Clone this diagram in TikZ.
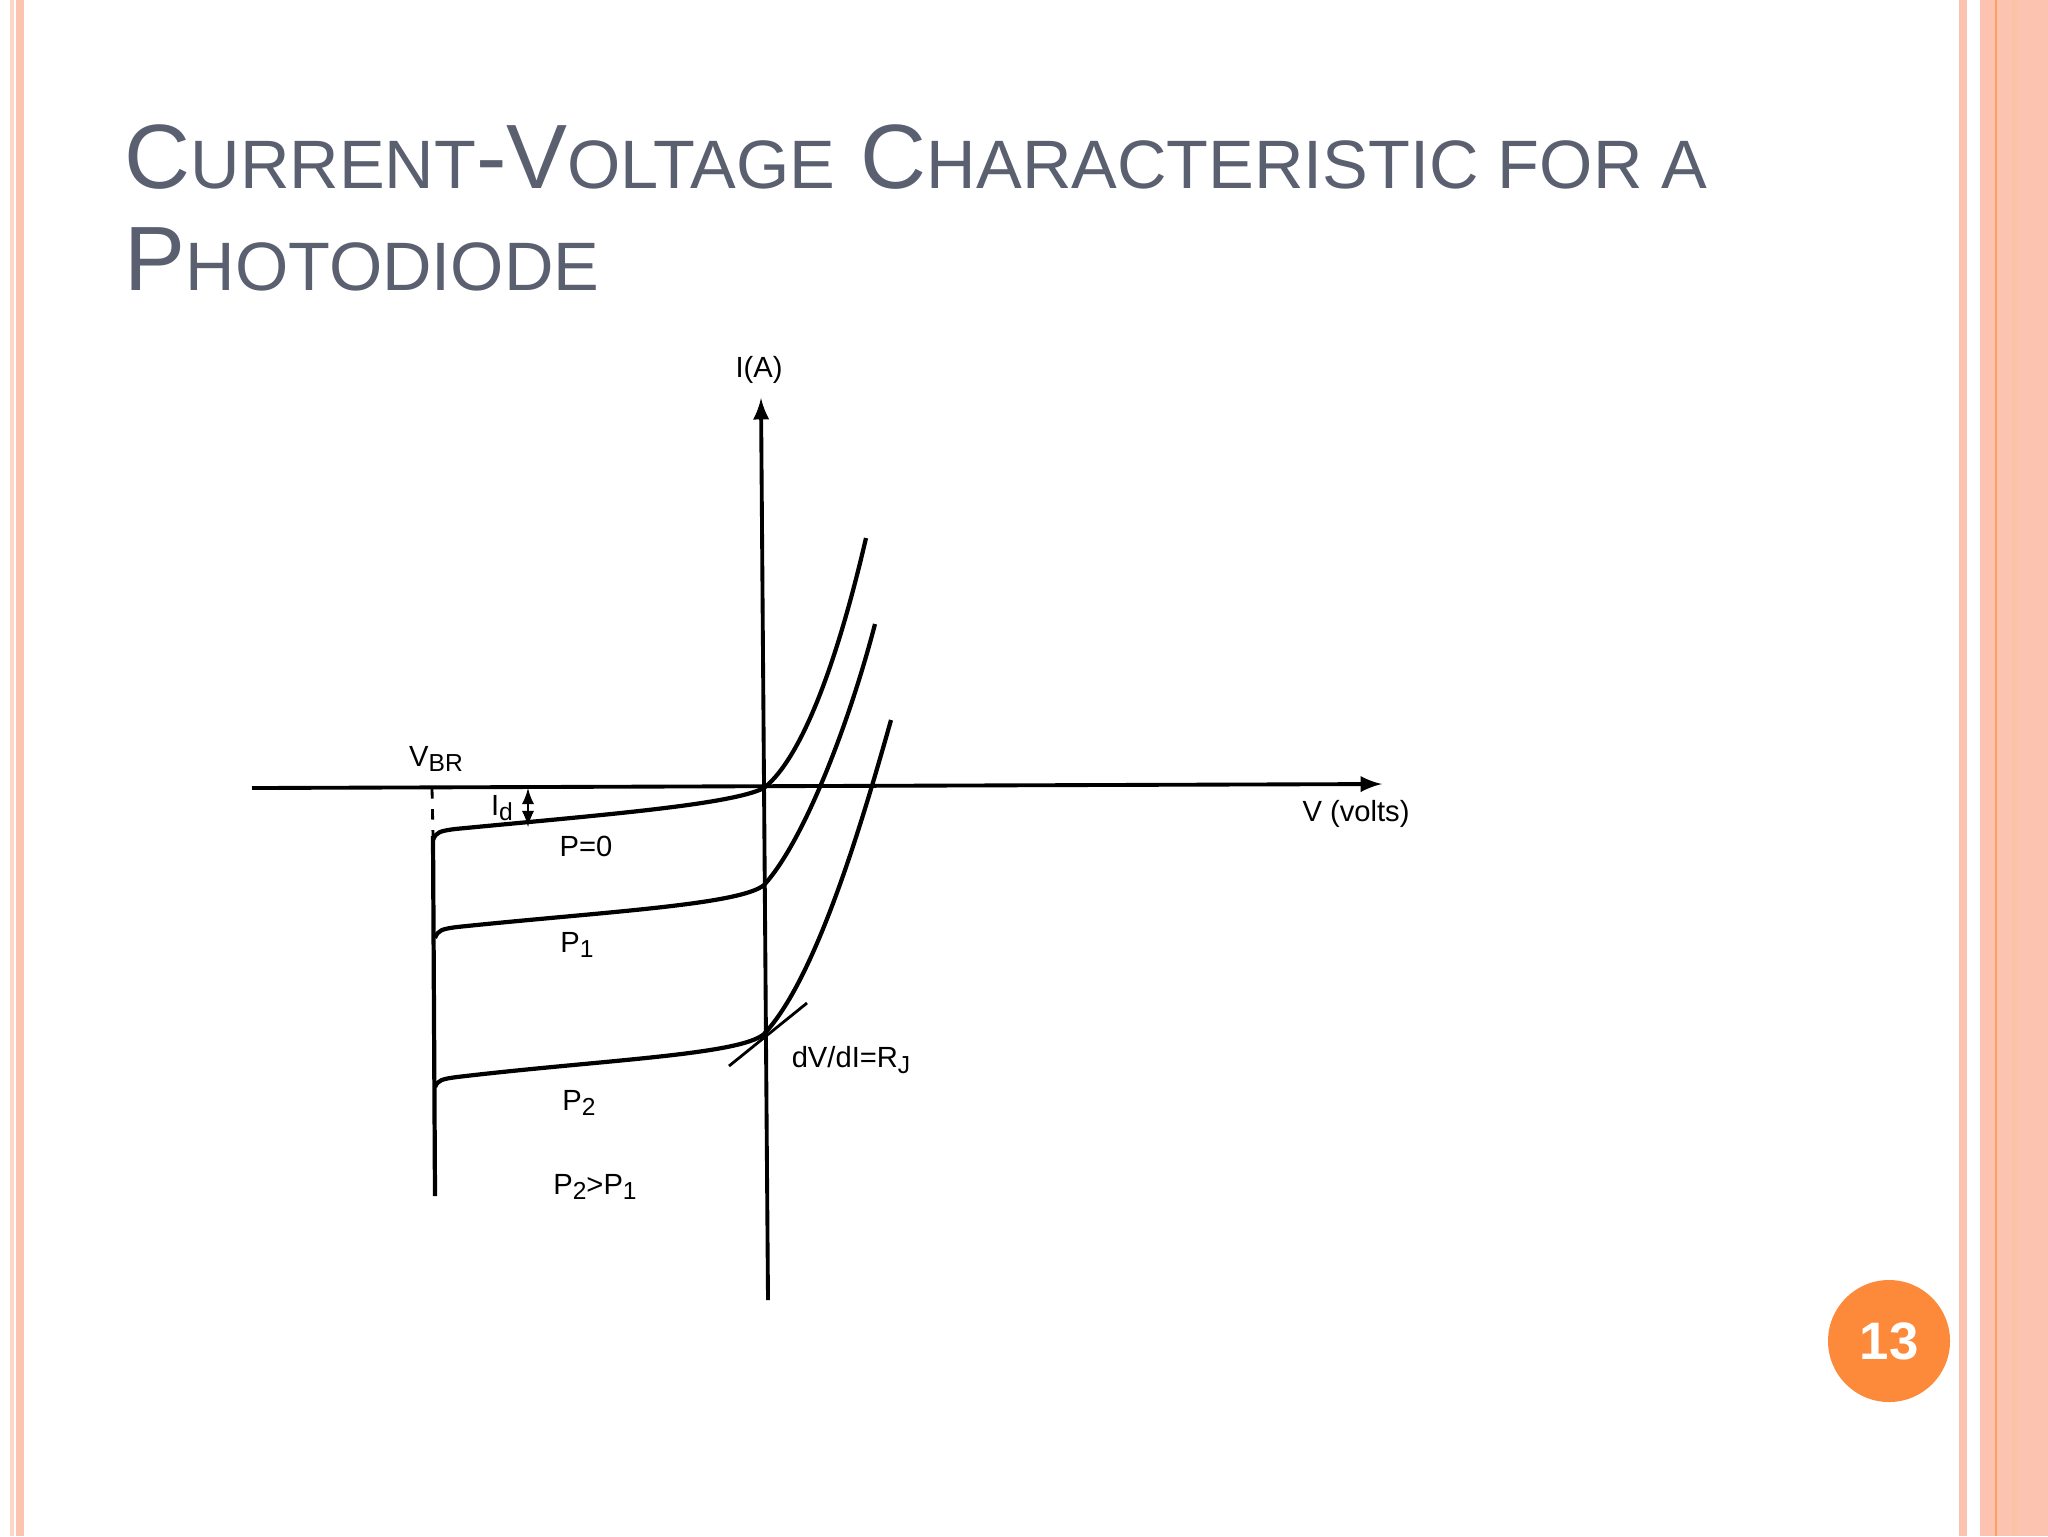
\documentclass[tikz,border=0pt]{standalone}
\usepackage{fontspec}
\setmainfont{Liberation Sans}
\newcommand{\mysc}[2]{{#1}{\fontsize{19.5}{24}\selectfont #2}}
\newcommand{\mysub}[1]{\raisebox{-0.35ex}{\fontsize{7}{8}\selectfont #1}}
\begin{document}
\begin{tikzpicture}[x=0.1mm,y=-0.1mm,
  curve/.style={line width=1.2pt},
  lbl/.style={font=\fontsize{8.3}{10}\selectfont, inner sep=0pt},
  ttl/.style={font=\fontsize{26}{30}\selectfont, text=titlegrey, anchor=base west, inner sep=0pt}]
\definecolor{titlegrey}{HTML}{5A6070}
\definecolor{stripe}{HTML}{FCC4B0}
\definecolor{stripeB}{HTML}{F9CBB8}
\definecolor{badge}{HTML}{FD8A3A}
\useasboundingbox (0,0) rectangle (2048,1536);
\fill[white] (0,0) rectangle (2048,1536);
% borders
\fill[stripe!70] (10,0) rectangle (14,1536);
\fill[stripe] (16,0) rectangle (24,1536);
\fill[stripe] (1959,0) rectangle (1967,1536);
\fill[stripe] (1980,0) rectangle (2048,1536);
\fill[stripeB!90!orange] (2012,0) rectangle (2017,1536);
\draw[badge!80,line width=0.5pt] (1996,0) -- (1996,1536);
% badge
\node[circle,fill=badge,minimum size=122*0.1mm,inner sep=0pt,text=white,font=\fontsize{15}{18}\selectfont\bfseries] (badge) at (1889,1341) {13};
% title
\node[ttl] (t1) at (124,188) {\mysc{C}{URRENT}-\mysc{V}{OLTAGE} \mysc{C}{HARACTERISTIC FOR A}};
\node[ttl] (t2) at (124,290) {\mysc{P}{HOTODIODE}};
% axes
\coordinate (xl) at (252,788);
\coordinate (xr) at (1382,784);
\coordinate (yb) at (768,1300);
\coordinate (yt) at (761,398);
\draw[line width=1.1pt,-latex] (xl) -- (xr);
\draw[line width=1.1pt,-latex] (yb) -- (yt);
\node[lbl] (ia) at (759,370) {I(A)};
\node[lbl] (vv) at (1356,814) {V (volts)};
\node[lbl] (vbr) at (436,759) {V\mysub{BR}};
% breakdown
\coordinate (d1) at (432,788);
\coordinate (d2) at (433,836);
\coordinate (d3) at (435,1196);
\draw[line width=0.8pt,dashed] (d1) -- (d2);
\draw[curve] (d2) -- (d3);
% curves
\draw[curve] (433,840) .. controls (436,832) and (440,831) .. (455,829) .. controls (600,815) and (730,805) .. (764,788) .. controls (805,755) and (840,650) .. (866,538);
\draw[curve] (435,938) .. controls (438,930) and (442,929) .. (457,927) .. controls (600,912) and (740,905) .. (764,885) .. controls (805,840) and (850,720) .. (875,624);
\draw[curve] (435,1087) .. controls (438,1080) and (442,1079) .. (457,1077) .. controls (600,1060) and (740,1055) .. (764,1034) .. controls (815,980) and (860,830) .. (891,720);
% Id
\coordinate (ida) at (528,788);
\coordinate (idb) at (528,827);
\draw[line width=0.6pt,latex-latex] (ida) -- (idb);
\node[lbl] (id) at (502,808) {I\mysub{d}};
% tangent
\coordinate (ta) at (729,1066);
\coordinate (tb) at (807,1003);
\draw[line width=0.8pt] (ta) -- (tb);
\node[lbl] (rj) at (851,1060) {dV/dI=R\mysub{J}};
\node[lbl] (p0) at (586,846) {P=0};
\node[lbl] (p1) at (577,945) {P\mysub{1}};
\node[lbl] (p2) at (579,1103) {P\mysub{2}};
\node[lbl] (p21) at (595,1187) {P\mysub{2}>P\mysub{1}};
\end{tikzpicture}
\end{document}
